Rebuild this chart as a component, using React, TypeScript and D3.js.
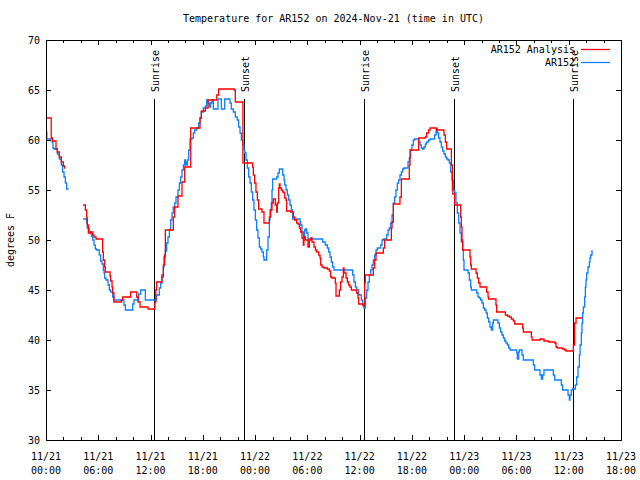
import React from "react";
import * as d3 from "d3";

const title = "Temperature for AR152 on 2024-Nov-21 (time in UTC)";
const yLabel = "degrees F";
const yTicks = [30, 35, 40, 45, 50, 55, 60, 65, 70];
const xTickHours = [0, 6, 12, 18, 24, 30, 36, 42, 48, 54, 60, 66];
const xTickDates = ["11/21", "11/21", "11/21", "11/21", "11/22", "11/22", "11/22", "11/22", "11/23", "11/23", "11/23", "11/23"];
const xTickTimes = ["00:00", "06:00", "12:00", "18:00", "00:00", "06:00", "12:00", "18:00", "00:00", "06:00", "12:00", "18:00"];
const eventHours = [12.43, 22.76, 36.54, 46.87, 60.53];
const eventLabels = ["Sunrise", "Sunset", "Sunrise", "Sunset", "Sunrise"];
const seriesNames = ["AR152 Analysis", "AR152"];

const analysisHours = [
  0, 0.6, 0.77, 1.15, 1.3, 1.53, 1.76, 1.99, 2.14, 2.22, 2.23,
  4.25, 4.52, 4.67, 4.74, 4.86, 5.13, 5.36, 5.51, 5.74, 6.5, 6.58, 6.73, 6.81, 7.35, 7.42, 7.58, 7.65, 7.8,
  8.65, 8.8, 9.72, 10.41, 10.56, 10.79, 11.71, 12.5, 12.6, 12.7, 13.31, 13.47, 13.62, 13.7, 14.61, 14.77,
  15.15, 15.61, 15.92, 16.61, 17.68, 17.83, 18.29, 18.6, 19.6, 19.82, 21.6, 21.73, 22.6, 23.72, 23.8, 23.95,
  24.1, 24.26, 24.41, 24.79, 25.02, 25.64, 25.79, 25.94, 26.09, 26.32, 26.48, 26.55, 26.71, 26.78, 26.86,
  27.01, 27.17, 27.32, 27.4, 27.55, 27.62, 28.08, 28.39, 28.54, 28.77, 28.93, 29.08, 29.23, 29.38, 29.54,
  29.61, 29.77, 30.07, 30.23, 30.38, 30.53, 30.76, 30.92, 31.07, 31.3, 31.45, 31.53, 31.68, 31.91, 32.29,
  32.52, 32.67, 32.83, 33.21, 33.29, 33.67, 33.82, 33.98, 34.13, 34.21, 34.44, 34.59, 34.74, 34.89, 35.05,
  35.66, 35.81, 35.89, 36.42, 36.58, 36.65, 37.57, 37.73, 37.88, 38.72, 38.87, 39.64, 39.72, 39.87, 40.63,
  40.79, 41.7, 41.78, 42.78, 43.54, 43.69, 43.92, 44.08, 44.84, 45.68, 45.84, 45.99, 46.53, 46.65, 46.7,
  46.91, 47.6, 47.67, 47.75, 47.83, 48.67, 48.75, 48.82, 49.36, 49.51, 49.66, 49.82, 50.58, 50.74, 50.81,
  51.65, 51.73, 52.73, 52.96, 53.18, 53.41, 53.64, 53.8, 54.71, 54.79, 55.71, 55.79, 56.7, 57.16, 57.7,
  58.39, 58.54, 58.69, 59.3, 59.54, 59.69, 59.84, 60.53, 60.68, 60.84, 61.55,
];
const analysisTemps: (number | null)[] = [
  62.2, 60.2, 59.9, 59.1, 58.8, 58.3, 57.8, 57.4, 57.2, 57.2, null,
  53.5, 53.0, 52.2, 51.5, 50.7, 50.8, 50.5, 50.3, 50.1, 48.8, 48.0, 47.3, 46.8, 46.4, 45.9, 45.3, 44.7, 43.8,
  44.0, 44.3, 44.8, 44.3, 43.8, 43.3, 43.1, 43.8, 45.0, 45.8, 46.5, 47.5, 48.5, 51.0, 52.3, 53.3,
  54.4, 55.8, 57.3, 61.2, 62.2, 62.9, 63.2, 64.0, 64.5, 65.1, 65.0, 63.8, 57.7, 57.3, 56.5, 55.7,
  54.8, 54.0, 53.1, 52.8, 51.7, 52.3, 53.0, 53.7, 54.1, 53.5, 52.8, 53.7, 55.2, 55.6, 55.2,
  55.0, 54.8, 54.7, 54.2, 54.0, 52.9, 52.8, 52.3, 52.0, 51.7, 51.6, 51.2, 50.8, 50.2, 49.5,
  50.3, 50.0, 49.3, 50.0, 50.2, 49.8, 49.3, 49.0, 48.8, 48.5, 48.2, 47.5, 47.3, 47.2, 47.1,
  46.9, 46.3, 46.2, 45.7, 44.4, 45.0, 45.8, 46.3, 47.2, 46.7, 46.2, 45.8, 45.5, 45.3, 45.0,
  44.7, 44.2, 43.6, 43.4, 45.7, 46.5, 47.2, 48.0, 48.7, 49.2, 50.0, 51.2, 51.8, 53.6, 54.3,
  56.1, 57.5, 59.0, 60.2, 60.3, 60.7, 61.0, 61.2, 61.0, 60.5, 59.8, 59.1, 57.5, 55.0, 54.6,
  53.5, 52.3, 51.3, 50.0, 49.0, 48.3, 47.5, 47.1, 46.7, 46.2, 45.7, 45.3, 44.8, 44.3, 44.1,
  43.5, 42.8, 42.5, 42.4, 42.3, 42.1, 41.9, 41.6, 41.2, 40.8, 40.3, 40.0, 40.1, 39.9, 39.8,
  39.7, 39.3, 39.2, 39.1, 39.0, 38.9, 38.9, 39.5, 41.7, 42.2, 42.2,
];

const obsHours = [
  0, 0.1, 0.7, 0.8, 0.92, 1.3, 1.53, 1.76, 1.91, 2.07, 2.22, 2.37, 2.6, 2.61,
  4.25, 4.67, 4.74, 4.97, 5.2, 5.36, 5.51, 5.66, 5.81, 6.12, 6.27, 6.43, 6.58, 6.66, 6.73, 6.89, 7.12, 7.27,
  7.42, 7.65, 7.8, 8.95, 9.11, 9.95, 10.1, 10.64, 10.87, 11.4, 12.7, 13.01, 13.16, 13.31, 13.47, 13.54, 13.7,
  13.85, 14.0, 14.16, 14.31, 14.46, 14.61, 14.77, 14.92, 15.15, 15.31, 15.46, 15.61, 15.77, 15.92, 16.0,
  16.07, 16.22, 16.38, 16.53, 16.76, 16.91, 17.07, 17.29, 17.52, 17.68, 17.83, 18.06, 18.29, 18.44, 18.6,
  18.75, 18.9, 19.05, 19.21, 19.74, 20.13, 20.51, 21.12, 21.27, 21.5, 21.73, 21.96, 22.11, 22.27, 22.42,
  22.57, 22.73, 22.8, 22.96, 23.11, 23.26, 23.42, 23.57, 23.72, 23.87, 24.03, 24.18, 24.33, 24.49, 24.64,
  24.79, 24.95, 25.02, 25.33, 25.48, 25.64, 25.71, 25.86, 25.94, 26.02, 26.48, 26.63, 26.78, 27.17, 27.32,
  27.4, 27.55, 27.7, 27.85, 28.01, 28.16, 28.31, 29.16, 29.23, 29.38, 29.54, 29.69, 29.77, 29.92, 30.07,
  31.76, 32.06, 32.29, 32.45, 32.6, 32.75, 32.9, 33.06, 35.2, 35.35, 35.51, 35.66, 35.89, 36.04, 36.2,
  36.35, 36.5, 36.65, 36.81, 36.96, 37.11, 37.27, 37.42, 37.57, 37.73, 37.88, 38.03, 38.41, 38.57, 38.72,
  39.1, 39.26, 39.41, 39.56, 39.72, 39.87, 40.02, 40.17, 40.33, 40.48, 40.63, 40.79, 40.94, 41.09, 41.55,
  41.7, 41.86, 42.01, 42.16, 42.32, 42.78, 42.93, 43.08, 43.23, 43.39, 43.54, 43.69, 43.92, 44.08, 44.61,
  44.77, 44.92, 45.07, 45.22, 45.38, 45.53, 45.68, 45.84, 45.99, 46.14, 46.3, 46.45, 46.6, 46.76, 46.91,
  47.06, 47.21, 47.37, 47.52, 47.67, 47.83, 47.9, 47.98, 48.44, 48.59, 48.75, 48.82, 49.43, 49.59, 49.74,
  49.89, 50.05, 50.2, 50.35, 50.51, 50.66, 50.81, 50.96, 51.12, 51.27, 51.35, 51.88, 52.04, 52.19, 52.34,
  52.5, 52.65, 52.8, 52.96, 53.11, 53.26, 54.03, 54.1, 54.26, 54.33, 54.64, 54.79, 55.94, 56.09, 56.7,
  56.86, 57.01, 57.16, 58.23, 58.39, 59.15, 59.3, 59.92, 60.07, 60.15, 60.3, 60.45, 60.76, 60.91, 61.07,
  61.22, 61.3, 61.45, 61.52, 61.6, 61.68, 61.83, 61.91, 61.98, 62.06, 62.21, 62.37, 62.44, 62.52, 62.67,
];
const obsTemps: (number | null)[] = [
  60.8, 60.1, 59.8, 59.2, 59.1, 58.6, 58.1, 57.5, 56.8, 56.3, 55.7, 55.1, 55.1, null,
  52.1, 51.7, 51.2, 50.8, 50.4, 50.0, 49.5, 49.1, 49.0, 48.5, 47.9, 47.6, 47.0, 46.7, 46.2, 46.0, 45.5, 45.0,
  44.8, 44.3, 44.0, 43.5, 43.0, 43.6, 44.0, 44.6, 45.0, 44.0, 44.5, 45.2, 45.7, 46.3, 47.3, 48.3, 48.9,
  49.7, 50.3, 51.0, 52.0, 52.7, 53.3, 53.7, 54.3, 55.0, 55.7, 56.3, 57.0, 57.5, 58.0, 57.8,
  57.5, 58.0, 59.0, 60.1, 60.2, 60.7, 61.0, 61.2, 61.7, 62.2, 62.8, 63.2, 63.4, 64.0, 63.7,
  63.3, 63.7, 64.0, 63.1, 64.1, 63.1, 64.1, 63.7, 63.1, 62.8, 62.3, 62.0, 61.3, 60.7, 60.0,
  59.5, 59.0, 58.7, 58.0, 57.2, 56.3, 55.7, 54.8, 54.0, 53.0, 52.0, 51.0, 50.2, 49.3, 49.1,
  48.8, 48.3, 48.0, 49.0, 50.3, 52.0, 53.0, 53.7, 55.0, 56.1, 56.3, 56.7, 57.1, 56.5, 56.0,
  55.5, 55.0, 54.5, 54.0, 53.5, 53.0, 52.1, 51.8, 51.5, 50.8, 50.3, 51.0, 51.1, 50.7, 50.1,
  49.8, 49.5, 49.2, 48.8, 48.3, 47.8, 47.3, 47.0, 46.5, 45.8, 45.3, 45.0, 44.5, 44.5, 44.0,
  43.5, 43.2, 44.2, 45.0, 45.8, 46.5, 47.0, 47.5, 48.0, 48.5, 49.0, 49.2, 49.5, 50.0, 50.1,
  50.5, 51.0, 51.2, 51.7, 52.5, 53.7, 54.3, 55.0, 55.7, 56.0, 56.5, 56.8, 57.1, 57.2, 57.8,
  58.2, 59.0, 59.5, 60.0, 60.1, 59.8, 59.5, 59.2, 59.1, 59.3, 59.6, 59.8, 60.0, 60.1, 60.5,
  61.1, 60.7, 60.2, 59.8, 59.3, 58.9, 58.6, 58.3, 58.1, 58.0, 57.7, 56.8, 56.0, 55.0, 54.7,
  53.7, 52.7, 51.7, 50.7, 49.8, 49.0, 48.0, 47.0, 46.7, 46.0, 45.3, 45.0, 44.7, 44.3, 44.2,
  44.0, 43.7, 43.2, 43.0, 42.7, 42.2, 41.8, 41.3, 41.0, 41.7, 42.0, 41.7, 41.2, 40.8, 40.5,
  40.2, 39.9, 39.7, 39.5, 39.2, 39.0, 38.7, 38.1, 38.8, 39.0, 38.5, 38.0, 37.5, 37.0, 36.5,
  36.1, 36.5, 37.0, 36.5, 36.0, 35.5, 35.0, 34.5, 34.0, 34.5, 35.0, 35.1, 35.5, 36.3, 37.3,
  38.5, 39.5, 40.7, 41.7, 42.7, 43.3, 44.3, 45.3, 46.0, 46.7, 47.3, 47.8, 48.2, 48.5, 49.0,
];

const W = 640;
const H = 480;
const M = { left: 46, right: 621, top: 40, bottom: 440 };
const FONT = "'DejaVu Sans Mono', 'Liberation Mono', monospace";
const RED = "#ff0000";
const BLUE = "#0a80ff";

type P = [number, number | null];

export default function App() {
  const x = d3.scaleLinear().domain([0, 66]).range([M.left, M.right]);
  const y = d3.scaleLinear().domain([30, 70]).range([M.bottom, M.top]);

  const line = d3
    .line<P>()
    .defined((d) => d[1] != null)
    .x((d) => x(d[0]))
    .y((d) => y(d[1] as number))
    .curve(d3.curveStepAfter);

  const redPts: P[] = analysisHours.map((h, i) => [h, analysisTemps[i]]);
  const bluePts: P[] = obsHours.map((h, i) => [h, obsTemps[i]]);

  const minorHours = d3.range(0, 67, 2).filter((h) => h % 6 !== 0);
  const eventTop = 99;

  return (
    <svg
      width={W}
      height={H}
      style={{ position: "absolute", left: 0, top: 0, background: "#fff" }}
      fontFamily={FONT}
      fontSize={10}
    >
      <rect x={0} y={0} width={W} height={H} fill="#fff" />
      <text x={(M.left + M.right) / 2} y={22} textAnchor="middle" fill="#000">
        {title}
      </text>
      <text
        transform={`translate(14, ${(M.top + M.bottom) / 2}) rotate(-90)`}
        textAnchor="middle"
        fill="#000"
      >
        {yLabel}
      </text>

      {/* y ticks */}
      <g shapeRendering="crispEdges" stroke="#000">
        {yTicks.map((t) => (
          <g key={t}>
            <line x1={M.left} x2={M.left + 5} y1={Math.round(y(t)) + 0.5} y2={Math.round(y(t)) + 0.5} />
            <line x1={M.right} x2={M.right - 5} y1={Math.round(y(t)) + 0.5} y2={Math.round(y(t)) + 0.5} />
          </g>
        ))}
        {xTickHours.map((h) => (
          <g key={h}>
            <line x1={Math.round(x(h)) + 0.5} x2={Math.round(x(h)) + 0.5} y1={M.bottom} y2={M.bottom - 5} />
            <line x1={Math.round(x(h)) + 0.5} x2={Math.round(x(h)) + 0.5} y1={M.top} y2={M.top + 5} />
          </g>
        ))}
        {minorHours.map((h) => (
          <g key={"m" + h}>
            <line x1={Math.round(x(h)) + 0.5} x2={Math.round(x(h)) + 0.5} y1={M.bottom} y2={M.bottom - 3} />
            <line x1={Math.round(x(h)) + 0.5} x2={Math.round(x(h)) + 0.5} y1={M.top} y2={M.top + 3} />
          </g>
        ))}
      </g>
      {yTicks.map((t) => (
        <text key={"yl" + t} x={40} y={y(t)} dy="0.36em" textAnchor="end" fill="#000">
          {t}
        </text>
      ))}
      {xTickHours.map((h, i) => (
        <g key={"xl" + h}>
          <text x={x(h)} y={460} textAnchor="middle" fill="#000">
            {xTickDates[i]}
          </text>
          <text x={x(h)} y={474} textAnchor="middle" fill="#000">
            {xTickTimes[i]}
          </text>
        </g>
      ))}

      {/* sunrise / sunset */}
      {eventHours.map((h, i) => (
        <g key={"ev" + i}>
          <line
            x1={Math.round(x(h)) + 0.5}
            x2={Math.round(x(h)) + 0.5}
            y1={eventTop}
            y2={M.bottom}
            stroke="#000"
            shapeRendering="crispEdges"
          />
          <text
            transform={`translate(${Math.round(x(h)) + 5}, 92) rotate(-90)`}
            textAnchor="start"
            fill="#000"
          >
            {eventLabels[i]}
          </text>
        </g>
      ))}

      {/* series */}
      <path d={line(bluePts) || ""} fill="none" stroke={BLUE} strokeWidth={1.3} />
      <path d={line(redPts) || ""} fill="none" stroke={RED} strokeWidth={1.3} />

      {/* legend */}
      <text x={575} y={53} textAnchor="end" fill="#000">
        {seriesNames[0]}
      </text>
      <line x1={581} x2={610} y1={49.5} y2={49.5} stroke={RED} strokeWidth={1.3} />
      <text x={575} y={66} textAnchor="end" fill="#000">
        {seriesNames[1]}
      </text>
      <line x1={581} x2={610} y1={62.5} y2={62.5} stroke={BLUE} strokeWidth={1.3} />

      {/* frame */}
      <rect
        x={M.left + 0.5}
        y={M.top + 0.5}
        width={M.right - M.left}
        height={M.bottom - M.top}
        fill="none"
        stroke="#000"
        shapeRendering="crispEdges"
      />
    </svg>
  );
}
